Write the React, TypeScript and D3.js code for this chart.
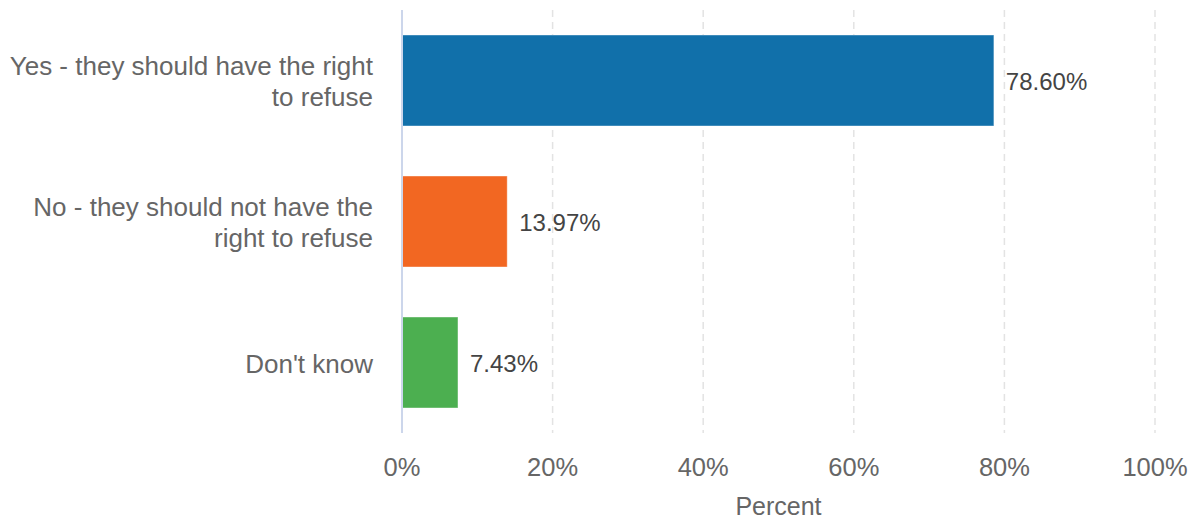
import React from "react";
import * as d3 from "d3";

const categories = [
  "Yes - they should have the right to refuse",
  "No - they should not have the right to refuse",
  "Don't know",
];
const values = [78.6, 13.97, 7.43];
const barColors = ["#1170aa", "#f26722", "#4caf50"];
const tickValues = [0, 20, 40, 60, 80, 100];
const axisTitle = "Percent";

const W = 1193;
const H = 520;
const margin = { left: 402, right: 38, top: 10, bottom: 87 };
const FONT = "'Liberation Sans', Arial, Helvetica, sans-serif";

function wrap(text: string, maxWidth: number, font: string): string[] {
  const canvas = document.createElement("canvas");
  const ctx = canvas.getContext("2d")!;
  ctx.font = font;
  const words = text.split(" ");
  const lines: string[] = [];
  let cur = "";
  for (const w of words) {
    const test = cur ? cur + " " + w : w;
    if (ctx.measureText(test).width > maxWidth && cur) {
      lines.push(cur);
      cur = w;
    } else {
      cur = test;
    }
  }
  if (cur) lines.push(cur);
  return lines;
}

export default function App() {
  const innerW = W - margin.left - margin.right;
  const innerH = H - margin.top - margin.bottom;
  const x = d3.scaleLinear().domain([0, 100]).range([margin.left, margin.left + innerW]);
  const y = d3
    .scaleBand<string>()
    .domain(categories)
    .range([margin.top, margin.top + innerH])
    .paddingInner(0.355)
    .paddingOuter(0.1775);
  const bottom = margin.top + innerH;
  const lineH = 31;

  return (
    <svg width={W} height={H} style={{ position: "absolute", left: 0, top: 0, fontFamily: FONT }}>
      <rect x={0} y={0} width={W} height={H} fill="#ffffff" />
      {tickValues.filter((t) => t > 0).map((t) => (
        <line
          key={"g" + t}
          x1={x(t)}
          x2={x(t)}
          y1={margin.top}
          y2={bottom}
          stroke="#e3e3e3"
          strokeWidth={1.5}
          strokeDasharray="7,5"
        />
      ))}
      {categories.map((c, i) => (
        <rect
          key={"b" + i}
          x={x(0)}
          y={y(c)!}
          width={x(values[i]) - x(0)}
          height={y.bandwidth()}
          fill={barColors[i]}
          stroke="#ffffff"
          strokeOpacity={0.35}
          strokeWidth={1}
        />
      ))}
      <line x1={x(0)} x2={x(0)} y1={margin.top} y2={bottom} stroke="#ccd6eb" strokeWidth={2} />
      {categories.map((c, i) => {
        const lines = wrap(c, 368, `26px ${FONT}`);
        const center = y(c)! + y.bandwidth() / 2;
        const first = center + 10 - ((lines.length - 1) * lineH) / 2;
        return (
          <text key={"c" + i} textAnchor="end" fontSize={26} fill="#666666">
            {lines.map((l, j) => (
              <tspan key={j} x={373} y={first + j * lineH}>
                {l}
              </tspan>
            ))}
          </text>
        );
      })}
      {categories.map((c, i) => (
        <text
          key={"v" + i}
          x={x(values[i]) + 12}
          y={y(c)! + y.bandwidth() / 2 + 9.5}
          fontSize={24}
          fill="#444444"
        >
          {values[i].toFixed(2) + "%"}
        </text>
      ))}
      {tickValues.map((t) => (
        <text key={"t" + t} x={x(t)} y={476} textAnchor="middle" fontSize={25.5} fill="#666666">
          {t + "%"}
        </text>
      ))}
      <text x={margin.left + innerW / 2} y={515} textAnchor="middle" fontSize={25} fill="#666666">
        {axisTitle}
      </text>
    </svg>
  );
}
